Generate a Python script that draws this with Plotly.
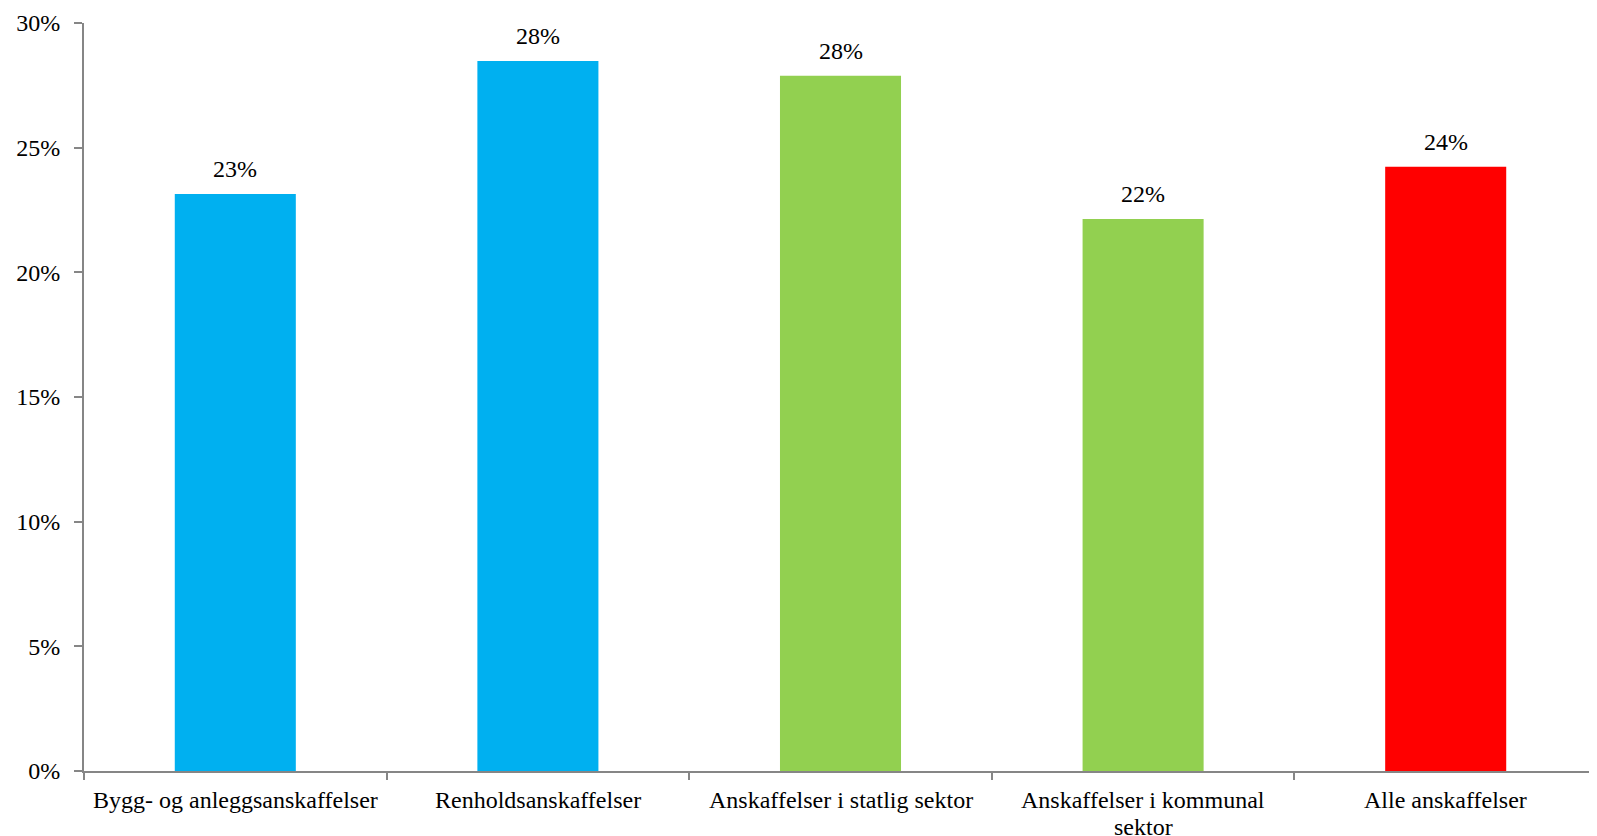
import plotly.graph_objects as go

categories = ["Bygg- og anleggsanskaffelser", "Renholdsanskaffelser", "Anskaffelser i statlig sektor",
              "Anskaffelser i kommunal sektor", "Alle anskaffelser"]
# category label lines as drawn under the axis
label_lines = [["Bygg- og anleggsanskaffelser"], ["Renholdsanskaffelser"], ["Anskaffelser i statlig sektor"],
               ["Anskaffelser i kommunal", "sektor"], ["Alle anskaffelser"]]
values = [0.2314, 0.2848, 0.2788, 0.2214, 0.2423]
labels = ["23%", "28%", "28%", "22%", "24%"]
colors = ["#00B0F0", "#00B0F0", "#92D050", "#92D050", "#FF0000"]

FONT = "Liberation Serif, Times New Roman, serif"
AXIS = "#868686"
FS = 24

fig = go.Figure(go.Bar(x=categories, y=values, marker=dict(color=colors, line=dict(width=0)),
                       hoverinfo="skip"))

for c, v, t in zip(categories, values, labels):
    fig.add_annotation(x=c, y=v, text=t, showarrow=False, yanchor="bottom", yshift=10,
                       font=dict(family=FONT, size=FS, color="black"))

for c, lines in zip(categories, label_lines):
    for i, line in enumerate(lines):
        fig.add_annotation(x=c, xref="x", y=0, yref="paper", text=line, showarrow=False,
                           yanchor="top", yshift=-14 - 27 * i,
                           font=dict(family=FONT, size=FS, color="black"))

# page body has an 8px margin, so the figure is sized to end at the window edge
fig.update_layout(
    width=1589, height=828,
    margin=dict(l=76, r=0, t=15, b=65),
    paper_bgcolor="white", plot_bgcolor="white",
    bargap=0.6, showlegend=False,
    font=dict(family=FONT, size=FS, color="black"),
)
fig.update_xaxes(type="category", range=[-0.5, 4.5], showline=True, linecolor=AXIS, linewidth=2,
                 ticks="outside", tickson="boundaries", ticklen=7, tickcolor=AXIS, tickwidth=2,
                 showgrid=False, showticklabels=False, automargin=False)
fig.update_yaxes(range=[0, 0.30], dtick=0.05, tickformat=".0%", showline=True, linecolor=AXIS,
                 linewidth=2, ticks="outside", ticklen=8, tickcolor=AXIS, tickwidth=2,
                 showgrid=False, zeroline=False, ticklabelstandoff=9, automargin=False,
                 tickfont=dict(family=FONT, size=FS, color="black"))

fig.write_html("out.html")
